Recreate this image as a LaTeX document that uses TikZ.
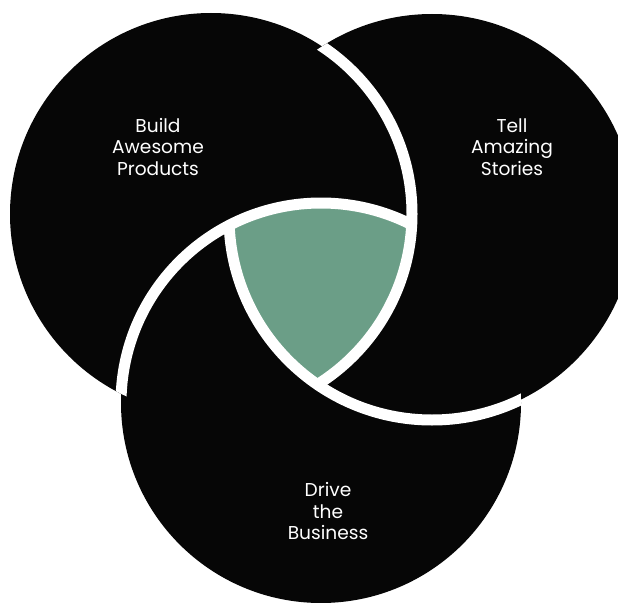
\documentclass[tikz,border=0pt]{standalone}
\usepackage{fontspec}
\setmainfont{Poppins}
\begin{document}
\begin{tikzpicture}[x=1pt,y=-1pt]
\definecolor{ink}{RGB}{6,6,6}
\definecolor{sage}{RGB}{107,158,135}
\tikzset{
  lbl/.style={text=white, align=center, inner sep=0pt, font=\fontsize{18.6}{21.5}\selectfont},
  sep/.style={draw=white, line width=11pt},
  disc/.style={fill=ink}
}
\def\cL{(211,214) circle[radius=201]}
\def\cR{(432,217) circle[radius=203]}
\def\cB{(321,403) circle[radius=200]}
\useasboundingbox (0,0) rectangle (618,602);
\clip (0,0) rectangle (618,602);
\fill[disc] \cL;
\fill[disc] \cR;
\fill[disc] \cB;
\begin{scope}
  \clip \cL; \clip \cR;
  \fill[sage] \cB;
\end{scope}
\begin{scope}
  \clip \cR; \draw[sep] \cL;
\end{scope}
\begin{scope}
  \clip \cL; \draw[sep] \cB;
\end{scope}
\begin{scope}
  \clip \cB; \draw[sep] \cR;
\end{scope}
\node[lbl] (build) at (158,147) {Build\\Awesome\\Products};
\node[lbl] (tell) at (512,147) {Tell\\Amazing\\Stories};
\node[lbl] (drive) at (328,511) {Drive\\the\\Business};
\end{tikzpicture}
\end{document}
